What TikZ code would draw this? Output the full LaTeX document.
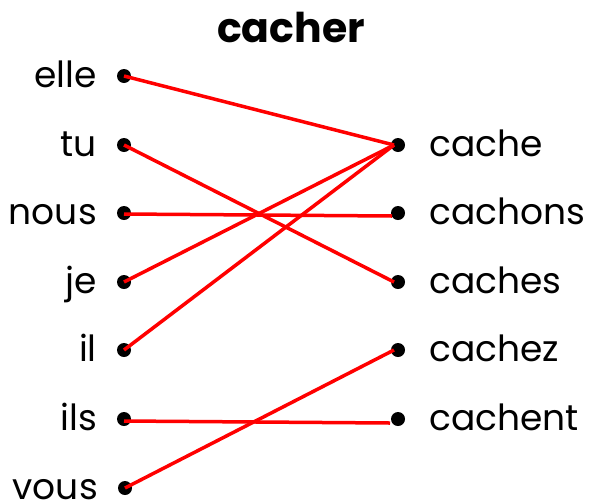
\documentclass[tikz,border=0pt]{standalone}
\usepackage{fontspec}
\setmainfont{Poppins}
\begin{document}
\begin{tikzpicture}[x=1pt,y=-1pt,
  dot/.style={circle,fill=black,inner sep=0pt,minimum size=14pt},
  lab/.style={font=\fontsize{36}{42}\selectfont,inner sep=0pt},
  link/.style={red,line width=3.5pt}]
\useasboundingbox (0,0) rectangle (601,501);
\node[font=\fontsize{41}{48}\selectfont\bfseries,anchor=base,inner sep=0pt] (title) at (291,42) {cacher};
% left
\node[dot] (elle) at (124,76) {};
\node[dot] (tu) at (124,145) {};
\node[dot] (nous) at (124,213) {};
\node[dot] (je) at (124,282) {};
\node[dot] (il) at (124,350) {};
\node[dot] (ils) at (124,419) {};
\node[dot] (vous) at (125,488) {};
\foreach \n in {elle,tu,nous,je,il,ils,vous}{
  \node[lab,anchor=base east] (l\n) at ([xshift=-27pt,yshift=-11pt]\n.center) {\n};
}
% right
\node[dot] (cache) at (398,145) {};
\node[dot] (cachons) at (398,213) {};
\node[dot] (caches) at (398,282) {};
\node[dot] (cachez) at (398,350) {};
\node[dot] (cachent) at (398,419) {};
\foreach \n in {cache,cachons,caches,cachez,cachent}{
  \node[lab,anchor=base west] (l\n) at ([xshift=31pt,yshift=-11pt]\n.center) {\n};
}
% links
\draw[link] (elle.center) -- ([xshift=-4pt]cache.center);
\draw[link] (tu.center) -- ([xshift=-4pt]caches.center);
\draw[link] ([yshift=-1pt]nous.center) -- ([xshift=-6pt,yshift=-3pt]cachons.center);
\draw[link] (je.center) -- ([xshift=-4pt]cache.center);
\draw[link] (il.center) -- ([xshift=-4pt]cache.center);
\draw[link] ([yshift=-2pt]ils.center) -- ([xshift=-8pt,yshift=-4pt]cachent.center);
\draw[link] (vous.center) -- ([xshift=-4pt]cachez.center);
\end{tikzpicture}
\end{document}
